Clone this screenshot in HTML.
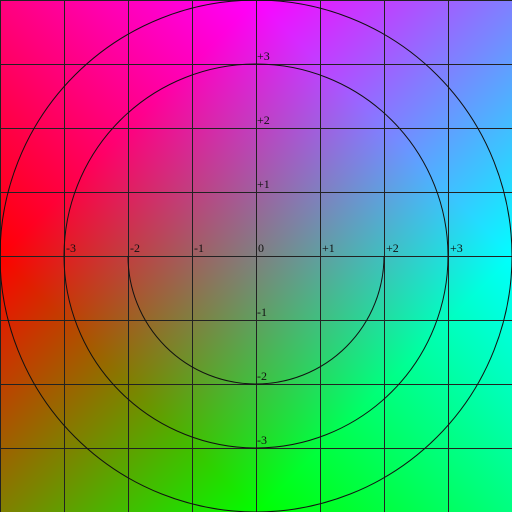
<!DOCTYPE html>
<html><head><meta charset="utf-8"><style>
html,body{margin:0;padding:0;background:#fff}
#wrap{position:relative;width:512px;height:512px}
canvas,svg{position:absolute;left:0;top:0}
text{font-family:"Liberation Serif",serif;font-size:12px;fill:#111}
</style></head><body>
<div id="wrap">
<canvas id="c" width="512" height="512"></canvas>
<svg id="s" width="512" height="512"></svg>
</div>
<script>
const xTicks = [-3,-2,-1,0,1,2,3];
const xTickLabels = ["-3","-2","-1","0","+1","+2","+3"];
const yTicks = [3,2,1,-1,-2,-3];
const yTickLabels = ["+3","+2","+1","-1","-2","-3"];
const fullCircles = [4,3];
const halfCircles = [2];
const gridUnits = [-4,-3,-2,-1,0,1,2,3,4];

const U=64, C=256;
const sx = v => C + v*U;
const sy = v => C - v*U;

const ctx=document.getElementById('c').getContext('2d');
const img=ctx.createImageData(512,512);
for(let py=0;py<512;py++){for(let px=0;px<512;px++){
  const x=(px-C)/C, y=(C-py)/C;
  let r=128-127*x+127*y, g=128+127*x-127*y, b=128+127*x+127*y;
  const i=(py*512+px)*4;
  img.data[i]=Math.max(0,Math.min(255,r));
  img.data[i+1]=Math.max(0,Math.min(255,g));
  img.data[i+2]=Math.max(0,Math.min(255,b));
  img.data[i+3]=255;
}}
ctx.putImageData(img,0,0);

const svg=document.getElementById('s'), NS='http://www.w3.org/2000/svg';
function mk(tag,attrs){const e=document.createElementNS(NS,tag);for(const k in attrs)e.setAttribute(k,attrs[k]);svg.appendChild(e);return e;}
gridUnits.forEach(u=>{
  const v=mk('line',{x1:sx(u)+0.5,y1:0,x2:sx(u)+0.5,y2:512,stroke:'#222','stroke-width':1});
  
  
  const h=mk('line',{x1:0,y1:sy(u)+0.5,x2:512,y2:sy(u)+0.5,stroke:'#222','stroke-width':1});
  
  
});
fullCircles.forEach(r=>{
  const c=mk('circle',{cx:C,cy:C,r:r*U,fill:'none',stroke:'#111','stroke-width':1});
  
  
});
halfCircles.forEach(r=>{
  const R=r*U;
  const p=mk('path',{d:`M${C-R},${C} A${R},${R} 0 0 0 ${C+R},${C}`,fill:'none',stroke:'#111','stroke-width':1});
  
  
});
xTicks.forEach((t,i)=>{
  const e=mk('text',{x:sx(t)+2,y:C-4});
  e.textContent=xTickLabels[i];
  
  
});
yTicks.forEach((t,i)=>{
  const e=mk('text',{x:C+1,y:sy(t)-4});
  e.textContent=yTickLabels[i];
  
  
});
</script>
</body></html>
